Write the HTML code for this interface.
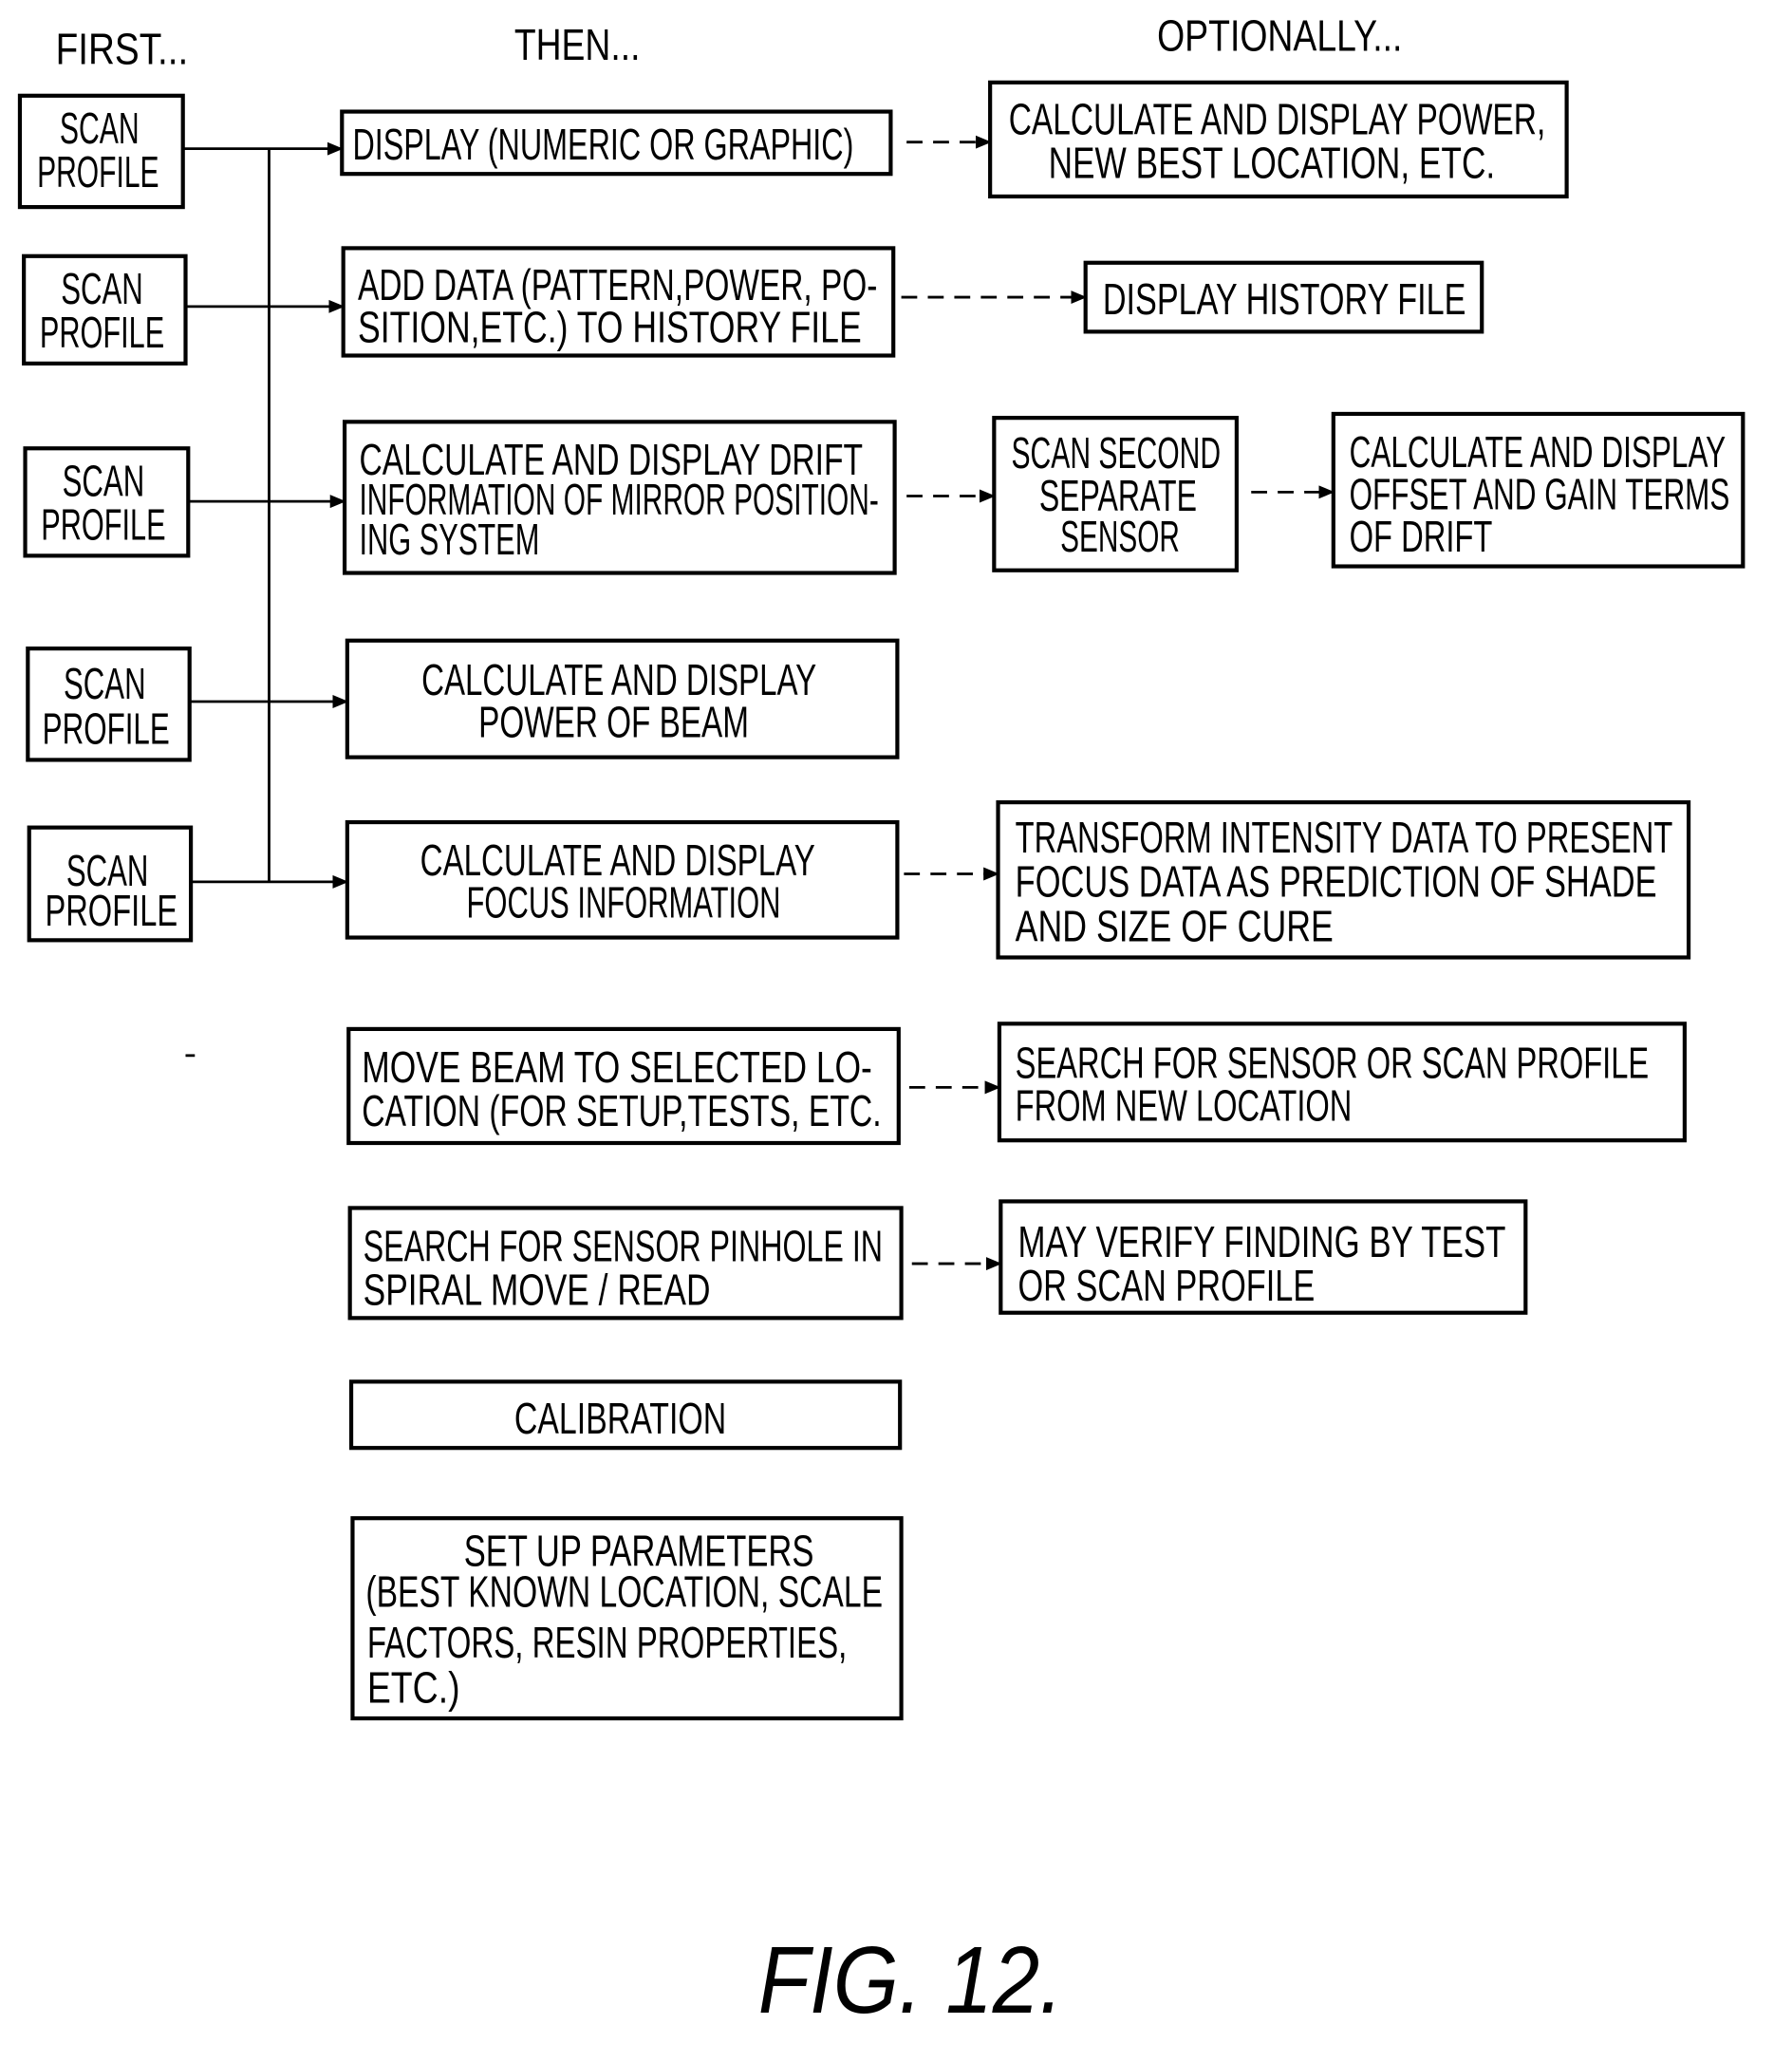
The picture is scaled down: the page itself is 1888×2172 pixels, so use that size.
<!DOCTYPE html>
<html><head><meta charset="utf-8"><style>
html,body{margin:0;padding:0;background:#fff}
svg{display:block}
text{font-family:"Liberation Sans Narrow","Liberation Sans",sans-serif;font-size:33px;fill:#000}
.b{fill:#fff;stroke:#000;stroke-width:3}
.l{stroke:#000;stroke-width:2;fill:none}
.d{stroke:#000;stroke-width:2;fill:none;stroke-dasharray:12 8}
</style></head><body>
<svg width="1888" height="2172" viewBox="0 0 1352 1555" xmlns="http://www.w3.org/2000/svg">
<defs><marker id="a" markerWidth="12" markerHeight="10" refX="11" refY="5" orient="auto" markerUnits="userSpaceOnUse"><path d="M0,0 L12,5 L0,10 z" fill="#000"/></marker></defs>
<text x="42" y="48" textLength="100" lengthAdjust="spacingAndGlyphs">FIRST...</text>
<text x="388" y="45" textLength="95" lengthAdjust="spacingAndGlyphs">THEN...</text>
<text x="873" y="38" textLength="185" lengthAdjust="spacingAndGlyphs">OPTIONALLY...</text>

<!-- scan profile boxes -->
<g>
<rect class="b" x="15" y="72" width="123" height="84"/><text x="45" y="108" textLength="60" lengthAdjust="spacingAndGlyphs">SCAN</text><text x="28" y="141" textLength="92" lengthAdjust="spacingAndGlyphs">PROFILE</text>
<rect class="b" x="18" y="193" width="122" height="81"/><text x="46" y="229" textLength="62" lengthAdjust="spacingAndGlyphs">SCAN</text><text x="30" y="262" textLength="94" lengthAdjust="spacingAndGlyphs">PROFILE</text>
<rect class="b" x="19" y="338" width="123" height="81"/><text x="47" y="374" textLength="62" lengthAdjust="spacingAndGlyphs">SCAN</text><text x="31" y="407" textLength="94" lengthAdjust="spacingAndGlyphs">PROFILE</text>
<rect class="b" x="21" y="489" width="122" height="84"/><text x="48" y="527" textLength="62" lengthAdjust="spacingAndGlyphs">SCAN</text><text x="32" y="561" textLength="96" lengthAdjust="spacingAndGlyphs">PROFILE</text>
<rect class="b" x="22" y="624" width="122" height="85"/><text x="50" y="668" textLength="62" lengthAdjust="spacingAndGlyphs">SCAN</text><text x="34" y="698" textLength="100" lengthAdjust="spacingAndGlyphs">PROFILE</text>
</g>
<line class="l" x1="203" y1="112" x2="203" y2="665"/>
<line class="l" x1="138" y1="112" x2="258" y2="112" marker-end="url(#a)"/>
<line class="l" x1="140" y1="231" x2="259" y2="231" marker-end="url(#a)"/>
<line class="l" x1="142" y1="378" x2="260" y2="378" marker-end="url(#a)"/>
<line class="l" x1="143" y1="529" x2="262" y2="529" marker-end="url(#a)"/>
<line class="l" x1="144" y1="665" x2="262" y2="665" marker-end="url(#a)"/>

<!-- middle -->
<rect class="b" x="258" y="84" width="414" height="47"/><text x="266" y="120" textLength="378" lengthAdjust="spacingAndGlyphs">DISPLAY (NUMERIC OR GRAPHIC)</text>
<rect class="b" x="259" y="187" width="415" height="81"/><text x="270" y="226" textLength="392" lengthAdjust="spacingAndGlyphs">ADD DATA (PATTERN,POWER, PO-</text><text x="270" y="258" textLength="380" lengthAdjust="spacingAndGlyphs">SITION,ETC.) TO HISTORY FILE</text>
<rect class="b" x="260" y="318" width="415" height="114"/><text x="271" y="358" textLength="380" lengthAdjust="spacingAndGlyphs">CALCULATE AND DISPLAY DRIFT</text><text x="271" y="388" textLength="392" lengthAdjust="spacingAndGlyphs">INFORMATION OF MIRROR POSITION-</text><text x="271" y="418" textLength="136" lengthAdjust="spacingAndGlyphs">ING SYSTEM</text>
<rect class="b" x="262" y="483" width="415" height="88"/><text x="318" y="524" textLength="298" lengthAdjust="spacingAndGlyphs">CALCULATE AND DISPLAY</text><text x="361" y="556" textLength="204" lengthAdjust="spacingAndGlyphs">POWER OF BEAM</text>
<rect class="b" x="262" y="620" width="415" height="87"/><text x="317" y="660" textLength="298" lengthAdjust="spacingAndGlyphs">CALCULATE AND DISPLAY</text><text x="352" y="692" textLength="237" lengthAdjust="spacingAndGlyphs">FOCUS INFORMATION</text>
<rect class="b" x="263" y="776" width="415" height="86"/><text x="273" y="816" textLength="385" lengthAdjust="spacingAndGlyphs">MOVE BEAM TO SELECTED LO-</text><text x="273" y="849" textLength="392" lengthAdjust="spacingAndGlyphs">CATION (FOR SETUP,TESTS, ETC.</text>
<rect class="b" x="264" y="911" width="416" height="83"/><text x="274" y="951" textLength="392" lengthAdjust="spacingAndGlyphs">SEARCH FOR SENSOR PINHOLE IN</text><text x="274" y="984" textLength="262" lengthAdjust="spacingAndGlyphs">SPIRAL MOVE / READ</text>
<rect class="b" x="265" y="1042" width="414" height="50"/><text x="388" y="1081" textLength="160" lengthAdjust="spacingAndGlyphs">CALIBRATION</text>
<rect class="b" x="266" y="1145" width="414" height="151"/><text x="350" y="1181" textLength="264" lengthAdjust="spacingAndGlyphs">SET UP PARAMETERS</text><text x="276" y="1212" textLength="390" lengthAdjust="spacingAndGlyphs">(BEST KNOWN LOCATION, SCALE</text><text x="277" y="1250" textLength="362" lengthAdjust="spacingAndGlyphs">FACTORS, RESIN PROPERTIES,</text><text x="277" y="1284" textLength="70" lengthAdjust="spacingAndGlyphs">ETC.)</text>

<!-- right -->
<rect class="b" x="747" y="62" width="435" height="86"/><text x="761" y="101" textLength="405" lengthAdjust="spacingAndGlyphs">CALCULATE AND DISPLAY POWER,</text><text x="791" y="134" textLength="337" lengthAdjust="spacingAndGlyphs">NEW BEST LOCATION, ETC.</text>
<rect class="b" x="819" y="198" width="299" height="52"/><text x="832" y="237" textLength="274" lengthAdjust="spacingAndGlyphs">DISPLAY HISTORY FILE</text>
<rect class="b" x="750" y="315" width="183" height="115"/><text x="763" y="353" textLength="158" lengthAdjust="spacingAndGlyphs">SCAN SECOND</text><text x="784" y="385" textLength="119" lengthAdjust="spacingAndGlyphs">SEPARATE</text><text x="800" y="416" textLength="90" lengthAdjust="spacingAndGlyphs">SENSOR</text>
<rect class="b" x="1006" y="312" width="309" height="115"/><text x="1018" y="352" textLength="284" lengthAdjust="spacingAndGlyphs">CALCULATE AND DISPLAY</text><text x="1018" y="384" textLength="287" lengthAdjust="spacingAndGlyphs">OFFSET AND GAIN TERMS</text><text x="1018" y="416" textLength="108" lengthAdjust="spacingAndGlyphs">OF DRIFT</text>
<rect class="b" x="753" y="605" width="521" height="117"/><text x="766" y="643" textLength="496" lengthAdjust="spacingAndGlyphs">TRANSFORM INTENSITY DATA TO PRESENT</text><text x="766" y="676" textLength="484" lengthAdjust="spacingAndGlyphs">FOCUS DATA AS PREDICTION OF SHADE</text><text x="766" y="710" textLength="240" lengthAdjust="spacingAndGlyphs">AND SIZE OF CURE</text>
<rect class="b" x="754" y="772" width="517" height="88"/><text x="766" y="813" textLength="478" lengthAdjust="spacingAndGlyphs">SEARCH FOR SENSOR OR SCAN PROFILE</text><text x="766" y="845" textLength="254" lengthAdjust="spacingAndGlyphs">FROM NEW LOCATION</text>
<rect class="b" x="755" y="906" width="396" height="84"/><text x="768" y="948" textLength="368" lengthAdjust="spacingAndGlyphs">MAY VERIFY FINDING BY TEST</text><text x="768" y="981" textLength="224" lengthAdjust="spacingAndGlyphs">OR SCAN PROFILE</text>

<!-- dashed arrows -->
<line class="d" x1="684" y1="107" x2="747" y2="107" marker-end="url(#a)"/>
<line class="d" x1="680" y1="224" x2="819" y2="224" marker-end="url(#a)"/>
<line class="d" x1="684" y1="374" x2="750" y2="374" marker-end="url(#a)"/>
<line class="d" x1="944" y1="371" x2="1006" y2="371" marker-end="url(#a)"/>
<line class="d" x1="682" y1="659" x2="753" y2="659" marker-end="url(#a)"/>
<line class="d" x1="686" y1="820" x2="754" y2="820" marker-end="url(#a)"/>
<line class="d" x1="688" y1="953" x2="755" y2="953" marker-end="url(#a)"/>

<line class="l" x1="140" y1="796" x2="147" y2="796"/>
<text x="572" y="1518" style="font-size:72px;font-style:italic" textLength="230" lengthAdjust="spacingAndGlyphs">FIG. 12.</text>
</svg>
</body></html>
